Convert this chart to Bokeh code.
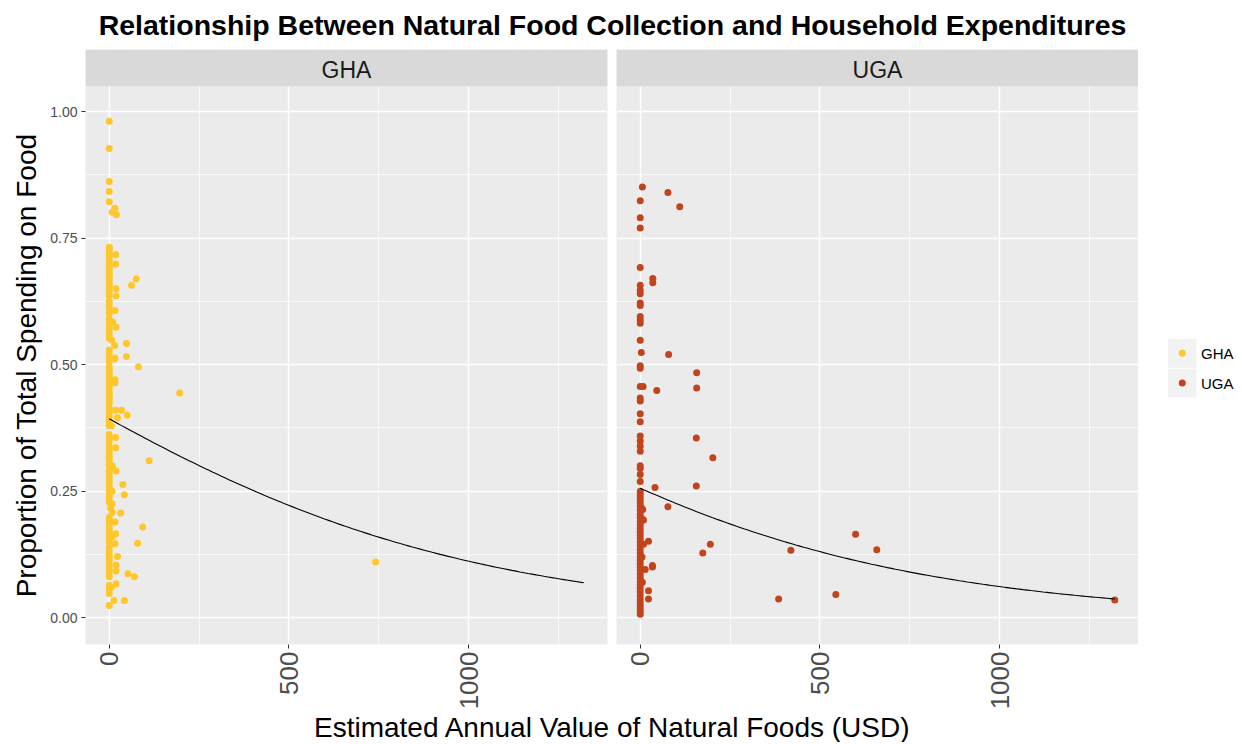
import numpy as np
from bokeh.plotting import figure
from bokeh.layouts import row, column
from bokeh.models import FixedTicker, BoxAnnotation, Label, Range1d, PrintfTickFormatter
from bokeh.core.properties import value
from bokeh.embed import file_html
from bokeh.resources import INLINE

# ---------------- texts / categories ----------------
TITLE = "Relationship Between Natural Food Collection and Household Expenditures"
X_TITLE = "Estimated Annual Value of Natural Foods (USD)"
Y_TITLE = "Proportion of Total Spending on Food"
countries = ["GHA", "UGA"]
colors = ["#FFC72C", "#C2441C"]

x_ticks = [0, 500, 1000]
x_minor_ticks = [250, 750, 1250]
y_ticks = [0.0, 0.25, 0.5, 0.75, 1.0]
y_tick_labels = ["0.00", "0.25", "0.50", "0.75", "1.00"]
y_minor_ticks = [0.125, 0.375, 0.625, 0.875]

# ---------------- data: GHA ----------------
gha_zero_y = [0.981, 0.927, 0.862, 0.842, 0.822,
              0.732, 0.728, 0.722, 0.716, 0.710, 0.704, 0.698, 0.692, 0.686, 0.680, 0.674,
              0.668, 0.662, 0.656, 0.650, 0.644, 0.636, 0.625, 0.618, 0.612, 0.601, 0.590,
              0.580, 0.572, 0.565, 0.558, 0.552,
              0.529, 0.522, 0.516, 0.510, 0.506, 0.496, 0.490, 0.484, 0.478, 0.472, 0.466,
              0.460, 0.454, 0.448, 0.442, 0.436, 0.430, 0.424, 0.415, 0.408, 0.402, 0.395,
              0.388, 0.379,
              0.362, 0.356, 0.349, 0.339, 0.333, 0.327, 0.320, 0.315, 0.310, 0.300, 0.290,
              0.284, 0.278, 0.272, 0.266, 0.258, 0.252, 0.246, 0.240, 0.234, 0.228,
              0.198, 0.192, 0.186, 0.180, 0.174, 0.168, 0.162, 0.156, 0.150, 0.139, 0.132,
              0.126, 0.120, 0.114, 0.108, 0.100, 0.094, 0.088, 0.081, 0.064, 0.057, 0.048,
              0.024]
gha_pos_x = [741, 196, 111, 81, 75, 62, 48, 48, 38, 42, 32, 93, 79, 52, 70, 42, 13,
             50, 34, 18, 23, 18, 18, 19, 8, 8, 8, 8, 4, 16, 18, 16, 23, 19, 19, 19,
             18, 18, 19, 19, 16, 19, 15, 15, 16, 16, 8, 16, 20, 10, 7, 16, 6, 9, 8, 6]
gha_pos_y = [0.110, 0.444, 0.310, 0.496, 0.669, 0.657, 0.542, 0.516, 0.263, 0.243, 0.207,
             0.179, 0.147, 0.087, 0.081, 0.034, 0.034,
             0.400, 0.410, 0.410, 0.395, 0.356, 0.336, 0.290, 0.300, 0.250, 0.225, 0.208,
             0.216, 0.189, 0.166, 0.146, 0.121, 0.104, 0.092, 0.067,
             0.717, 0.699, 0.650, 0.636, 0.607, 0.574, 0.538, 0.511, 0.470, 0.464, 0.801,
             0.809, 0.796, 0.584, 0.548, 0.513, 0.379, 0.296, 0.160, 0.060]

# ---------------- data: UGA ----------------
uga_zero_y = [0.824, 0.790, 0.770, 0.692, 0.657, 0.647, 0.640, 0.622, 0.617, 0.595, 0.588,
              0.582, 0.548, 0.498, 0.493, 0.457, 0.434, 0.428, 0.403, 0.387, 0.359, 0.349,
              0.339, 0.329, 0.300, 0.295, 0.283, 0.269,
              0.250, 0.244, 0.238, 0.232, 0.226, 0.220, 0.212, 0.205, 0.198, 0.190, 0.183,
              0.176, 0.170, 0.163, 0.156, 0.149, 0.142, 0.135, 0.128, 0.121, 0.114, 0.107,
              0.100, 0.093, 0.086, 0.079, 0.072, 0.065, 0.058, 0.051, 0.044, 0.037, 0.030,
              0.024, 0.018, 0.012, 0.007]
uga_pos_x = [6, 77, 110, 35, 35, 3, 79, 157, 8, 46, 157, 156, 202, 156, 41, 77, 7, 9,
             195, 174, 419, 599, 658, 385, 544, 1320, 23, 9, 34, 34, 14, 23, 23, 4, 5, 5, 6]
uga_pos_y = [0.851, 0.840, 0.812, 0.670, 0.662, 0.524, 0.520, 0.484, 0.457, 0.449, 0.454,
             0.355, 0.316, 0.260, 0.257, 0.219, 0.214, 0.193, 0.145, 0.128, 0.133, 0.165,
             0.134, 0.037, 0.046, 0.035, 0.151, 0.145, 0.103, 0.100, 0.095, 0.053, 0.037,
             0.216, 0.195, 0.120, 0.070]

# logistic smooth (intercept, slope) as drawn in the chart
gha_fit = [-0.435, -0.00164]
uga_fit = [-1.067, -0.00166]

FONT = "Liberation Sans"
X_RANGE = (-66, 1386)
Y_RANGE = (-0.053, 1.1227)
STRIP_BOTTOM = 1.05
FRAME_W, FRAME_H = 522, 598
YLAB_W = 45
LEFT_B, GAP = 85 - YLAB_W, 9
BOTTOM = 65
HEADER_H = 49
PANEL_H = FRAME_H + BOTTOM
TOTAL_W, TOTAL_H = 1240, 742
FOOTER_H = TOTAL_H - HEADER_H - PANEL_H
CENTER_X = 612

Y_PX = FRAME_H / (Y_RANGE[1] - Y_RANGE[0])       # pixels per y unit


def y_at(page_y):
    """data y of a page row inside the panel/legend frames"""
    return Y_RANGE[1] - (page_y - HEADER_H) / Y_PX


all_x = gha_pos_x + uga_pos_x + [0]
fit_x = np.linspace(min(all_x), max(all_x), 120)


def make_panel(name, xs, ys, color, fit, with_y):
    p = figure(width=FRAME_W + (LEFT_B + GAP if with_y else 0), height=PANEL_H,
               title=None,
               x_range=Range1d(*X_RANGE), y_range=Range1d(*Y_RANGE),
               output_backend="svg", toolbar_location=None,
               y_axis_location="left" if with_y else None,
               min_border_left=LEFT_B if with_y else 0, min_border_right=GAP if with_y else 0,
               min_border_top=0, min_border_bottom=BOTTOM,
               background_fill_color="#EBEBEB", border_fill_color="white",
               outline_line_color=None)
    for g in p.xgrid:
        g.ticker = FixedTicker(ticks=x_ticks, minor_ticks=x_minor_ticks)
    for g in p.ygrid:
        g.ticker = FixedTicker(ticks=y_ticks, minor_ticks=y_minor_ticks)
    p.grid.grid_line_color = "white"
    p.grid.grid_line_width = 1.4
    p.grid.minor_grid_line_color = "white"
    p.grid.minor_grid_line_width = 0.7

    ax = p.xaxis[0]
    ax.ticker = FixedTicker(ticks=x_ticks)
    ax.major_label_orientation = np.pi / 2
    ax.axis_line_color = None
    ax.minor_tick_line_color = None
    ax.major_tick_line_color = "#333333"
    ax.major_tick_out = 4
    ax.major_tick_in = 0
    ax.major_label_standoff = 3
    ax.major_label_text_font = FONT
    ax.major_label_text_font_size = "26px"
    ax.major_label_text_color = "#4D4D4D"

    if with_y:
        ay = p.yaxis[0]
        ay.ticker = FixedTicker(ticks=y_ticks)
        ay.formatter = PrintfTickFormatter(format="%.2f")
        ay.major_label_overrides = {t: l for t, l in zip(y_ticks, y_tick_labels)}
        ay.axis_line_color = None
        ay.minor_tick_line_color = None
        ay.major_tick_line_color = "#333333"
        ay.major_tick_out = 4
        ay.major_tick_in = 0
        ay.major_label_standoff = 4
        ay.major_label_text_font = FONT
        ay.major_label_text_font_size = "14px"
        ay.major_label_text_color = "#4D4D4D"

    p.scatter(xs, ys, size=7, fill_color=color, line_color=None)
    fy = 1.0 / (1.0 + np.exp(-(fit[0] + fit[1] * fit_x)))
    p.line(fit_x, fy, line_color="black", line_width=1.1)

    p.add_layout(BoxAnnotation(bottom=STRIP_BOTTOM, fill_color="#D9D9D9", fill_alpha=1.0,
                               line_color=None))
    p.add_layout(Label(x=(X_RANGE[0] + X_RANGE[1]) / 2, y=(STRIP_BOTTOM + Y_RANGE[1]) / 2,
                       y_offset=-2,
                       text=name, text_align="center", text_baseline="middle",
                       text_font=FONT, text_font_size="23px", text_color="#1A1A1A"))
    return p


gha = make_panel(countries[0], [0] * len(gha_zero_y) + gha_pos_x, gha_zero_y + gha_pos_y,
                 colors[0], gha_fit, True)
uga = make_panel(countries[1], [0] * len(uga_zero_y) + uga_pos_x, uga_zero_y + uga_pos_y,
                 colors[1], uga_fit, False)


def blank(width, height, y_range=None, bottom=0):
    f = figure(width=width, height=height, title=None,
               x_range=Range1d(0, width),
               y_range=Range1d(0, height) if y_range is None else Range1d(*y_range),
               output_backend="svg", toolbar_location=None,
               min_border_left=0, min_border_right=0, min_border_top=0,
               min_border_bottom=bottom,
               x_axis_location=None, y_axis_location=None, outline_line_color=None,
               background_fill_color="white", border_fill_color="white")
    f.grid.visible = False
    return f


header = blank(TOTAL_W, HEADER_H)
header.add_layout(Label(x=CENTER_X, y=HEADER_H - 24, text=TITLE, text_align="center",
                        text_baseline="middle", text_font=FONT,
                        text_font_size="28.5px", text_font_style="bold", text_color="black"))

footer = blank(TOTAL_W, FOOTER_H)
footer.add_layout(Label(x=CENTER_X, y=TOTAL_H - 727, text=X_TITLE, text_align="center",
                        text_baseline="middle", text_font=FONT,
                        text_font_size="28px", text_color="black"))

# y-axis title, centred on the panel body (below the strip), as in ggplot
ylab = blank(YLAB_W, PANEL_H, y_range=Y_RANGE, bottom=BOTTOM)
ylab.add_layout(Label(x=25.5, y=(Y_RANGE[0] + STRIP_BOTTOM) / 2, text=Y_TITLE,
                      angle=np.pi / 2, text_align="center", text_baseline="middle",
                      text_font=FONT, text_font_size="28px", text_color="black"))

# legend (ggplot-style keys), same frame geometry as the panels
leg_w = TOTAL_W - YLAB_W - (LEFT_B + FRAME_W + GAP) - FRAME_W
leg = blank(leg_w, PANEL_H, y_range=Y_RANGE, bottom=BOTTOM)
key_left, key_w, key_h, key_gap = 29.5, 28.5, 28.8, 1.0
key_tops_px = [340 + i * (key_h + key_gap) for i in range(len(countries))]
leg.quad(left=[key_left] * len(countries), right=[key_left + key_w] * len(countries),
         top=[y_at(t) for t in key_tops_px], bottom=[y_at(t + key_h) for t in key_tops_px],
         fill_color="#F2F2F2", line_color=None)
centers = [y_at(t + key_h / 2) for t in key_tops_px]
leg.scatter([key_left + key_w / 2] * len(countries), centers, size=7,
            fill_color=colors, line_color=None)
leg.text(x=[key_left + key_w + 4.5] * len(countries), y=centers, text=countries,
         text_font=value(FONT), text_font_size=value("15px"), text_color="black",
         text_baseline="middle", text_align="left")

layout = column(header, row(ylab, gha, uga, leg), footer)
open("out.html", "w").write(file_html(layout, INLINE))
